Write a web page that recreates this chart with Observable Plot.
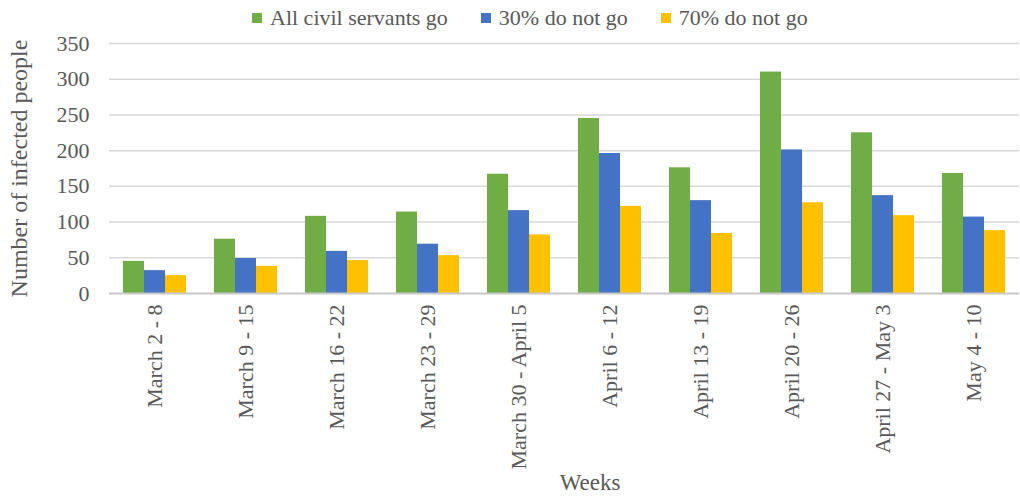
<!DOCTYPE html>
<html>
<head>
<meta charset="utf-8">
<script src="https://cdn.jsdelivr.net/npm/d3@7"></script>
<script src="https://cdn.jsdelivr.net/npm/@observablehq/plot@0.6"></script>
<style>
  body { margin: 0; background: #fff; font-family: "Liberation Serif", "Times New Roman", serif; color: #595959; }
  #wrap { position: relative; width: 1020px; height: 498px; }
  #legend { position: absolute; left: 252px; top: 5px; display: flex; align-items: center; font-size: 22px; white-space: nowrap; }
  .item { display: flex; align-items: center; margin-right: 33px; }
  .sw { width: 10px; height: 10px; margin-right: 8px; }
  #chart { position: absolute; left: 0; top: 30px; }
  #xtitle { position: absolute; top: 470px; left: 590px; transform: translateX(-50%); font-size: 23px; }
  svg text { fill: #595959; }
</style>
</head>
<body>
<div id="wrap">
  <div id="legend"></div>
  <div id="chart"></div>
  <div id="xtitle">Weeks</div>
</div>
<script>
const weeks = ["March 2 - 8", "March 9 - 15", "March 16 - 22", "March 23 - 29", "March 30 - April 5",
               "April 6 - 12", "April 13 - 19", "April 20 - 26", "April 27 - May 3", "May 4 - 10"];
const seriesNames = ["All civil servants go", "30% do not go", "70% do not go"];
const allGo      = [45, 76, 108, 114, 167, 245, 176, 310, 225, 168];
const notGo30    = [32, 49, 59, 69, 116, 196, 130, 201, 137, 107];
const notGo70    = [25, 38, 46, 53, 82, 122, 84, 127, 109, 88];
const colors = ["#70AD47", "#4472C4", "#FFC000"];
const yTicks = [0, 50, 100, 150, 200, 250, 300, 350];

const seriesValues = [allGo, notGo30, notGo70];
const data = [];
weeks.forEach((w, i) => {
  seriesNames.forEach((s, j) => data.push({week: w, series: s, value: seriesValues[j][i]}));
});

// legend
const legend = document.getElementById("legend");
seriesNames.forEach((s, j) => {
  const it = document.createElement("div");
  it.className = "item";
  it.innerHTML = `<span class="sw" style="background:${colors[j]}"></span><span>${s}</span>`;
  legend.appendChild(it);
});

const chart = Plot.plot({
  width: 1020,
  height: 468,
  marginLeft: 108,
  marginRight: 0,
  marginTop: 13,
  marginBottom: 205,
  style: {fontFamily: "Liberation Serif, Times New Roman, serif", fontSize: "22px", color: "#595959", background: "transparent"},
  fx: {domain: weeks, padding: 0, axis: "bottom", tickRotate: -90, tickSize: 0, tickPadding: 11, label: null},
  x: {domain: seriesNames, paddingInner: 0, paddingOuter: 0.65, axis: null},
  y: {domain: [0, 350], ticks: yTicks, tickSize: 0, tickPadding: 20, tickFormat: d => String(d),
      label: "Number of infected people", labelAnchor: "center", labelArrow: "none", labelOffset: 100},
  color: {domain: seriesNames, range: colors},
  marks: [
    Plot.ruleY(yTicks.slice(1), {stroke: "#d9d9d9", strokeWidth: 1.5}),
    Plot.barY(data, {fx: "week", x: "series", y: "value", fill: "series"}),
    Plot.ruleY([0], {stroke: "#c8c8c8", strokeWidth: 2})
  ]
});
d3.select(chart).selectAll("g[aria-label='y-axis label'] text").style("font-size", "24px");
document.getElementById("chart").appendChild(chart);
</script>
</body>
</html>
